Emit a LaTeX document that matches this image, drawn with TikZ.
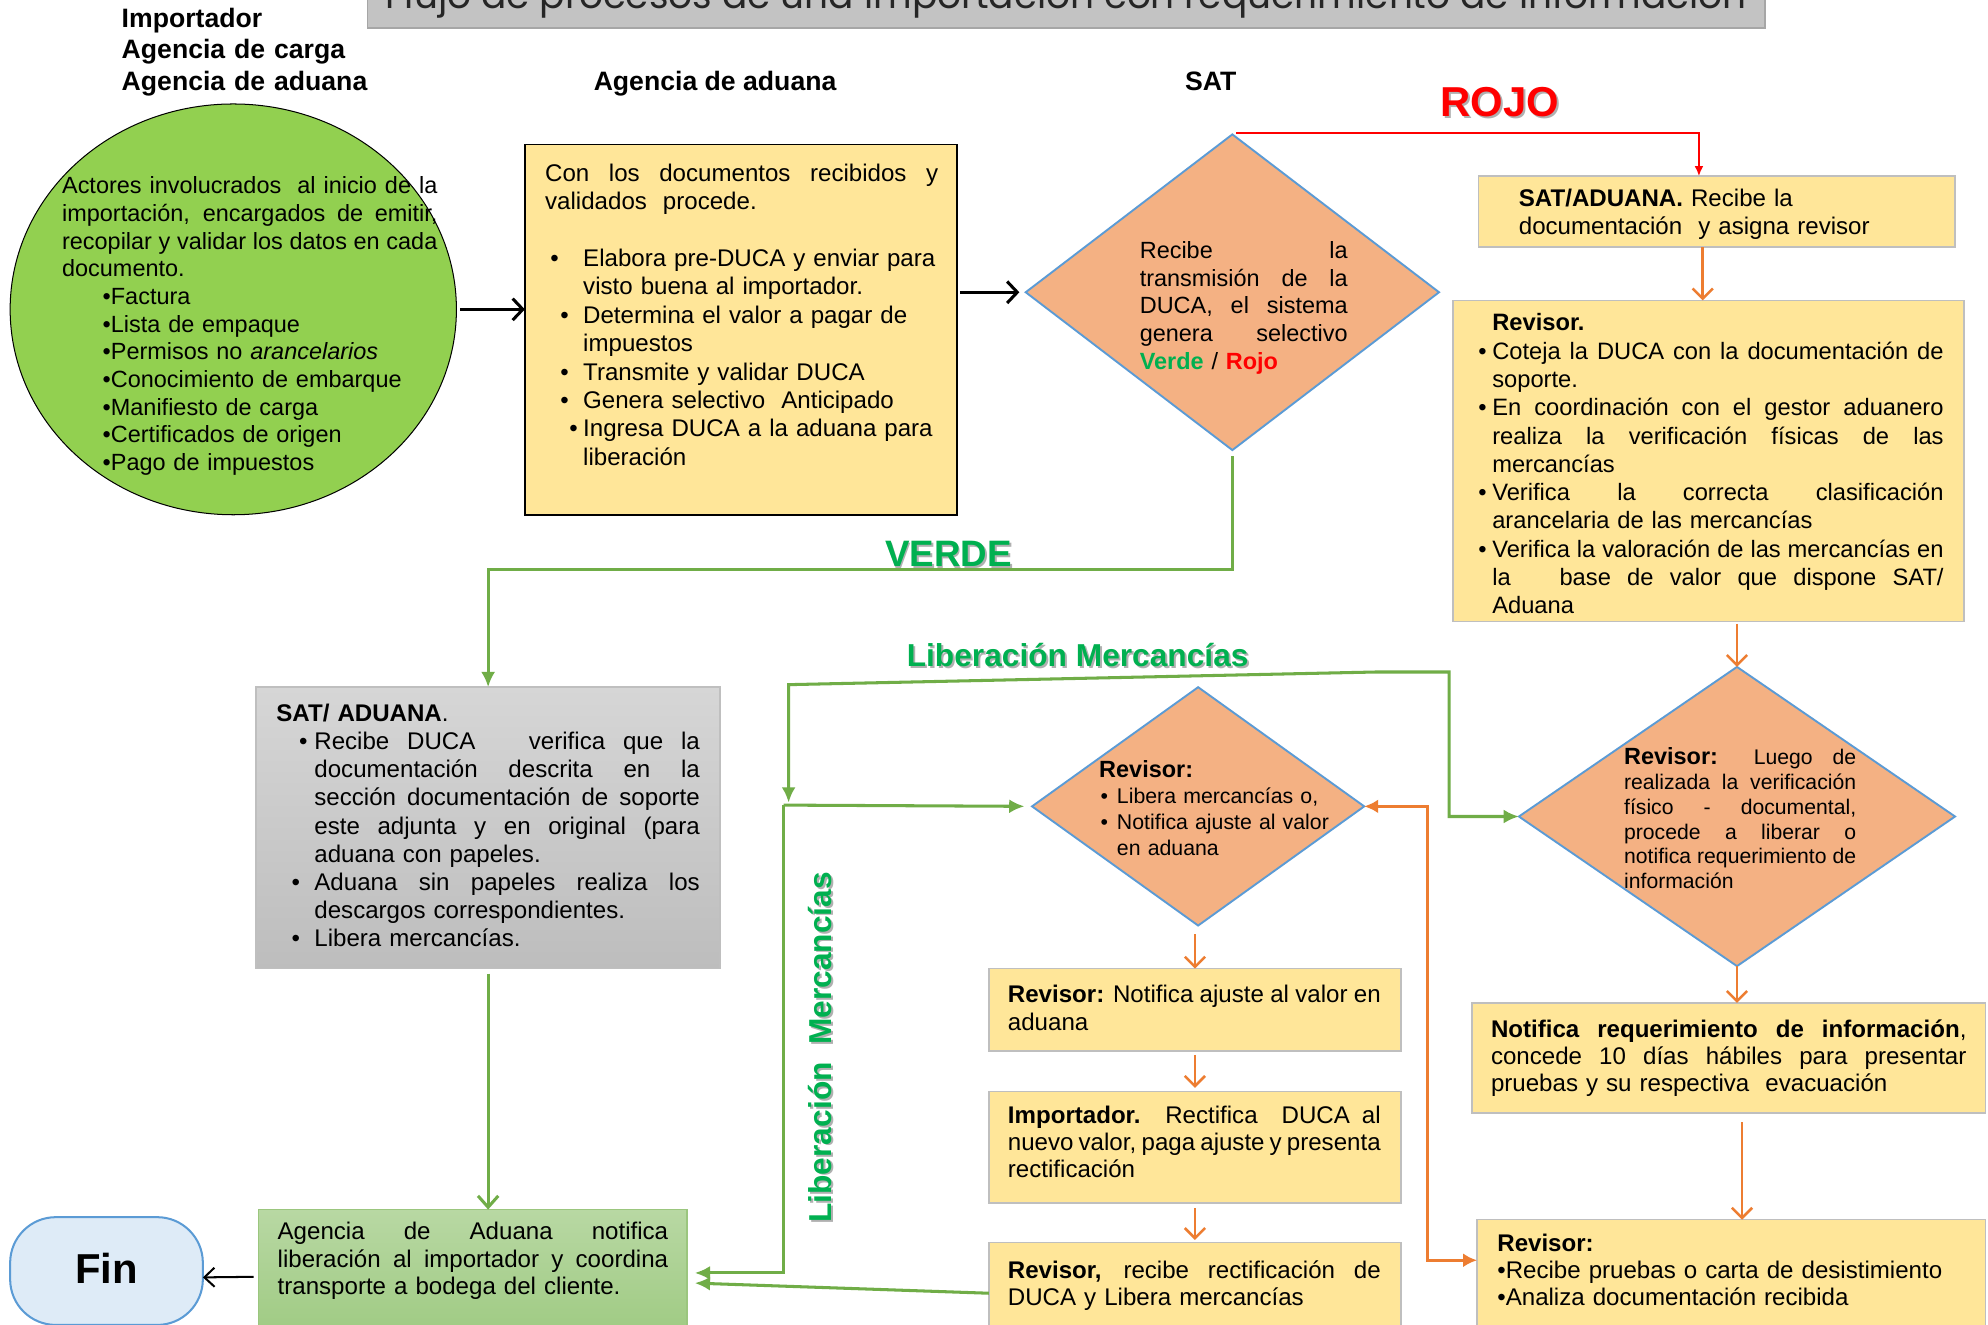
\documentclass[tikz,border=0pt]{standalone}
\usepackage{fontspec}
\usepackage{graphicx}
\setmainfont{Liberation Sans}
\newfontfamily\ttlfont{Poppins}
\usetikzlibrary{arrows.meta,shapes.geometric,calc}
\definecolor{ylw}{HTML}{FFE699}
\definecolor{orgc}{HTML}{ED7D31}
\definecolor{grl}{HTML}{70AD47}
\definecolor{grt}{HTML}{00B050}
\definecolor{dfill}{HTML}{F4B183}
\definecolor{dblue}{HTML}{5B9BD5}
\definecolor{ellg}{HTML}{92D050}
\definecolor{boxgray}{HTML}{BFBFBF}
\definecolor{finfill}{HTML}{DEEBF7}
\definecolor{ttlfill}{HTML}{C3C3C3}
\definecolor{ttldraw}{HTML}{A6A6A6}
\definecolor{shadowgray}{HTML}{B0B0B0}
\definecolor{txtdark}{HTML}{262626}
\definecolor{gbtop}{HTML}{D6D6D6}
\definecolor{gbbot}{HTML}{BDBDBD}
\definecolor{gntop}{HTML}{B8D8A3}
\definecolor{gnbot}{HTML}{A0CB84}
\newcommand\fs[2]{\fontsize{#1}{#2}\selectfont}
\newcommand\jl[1]{\makebox[\linewidth][s]{\spaceskip=0pt\xspaceskip=0pt\relax #1}}
\newcommand\jli[2]{\makebox[\dimexpr\linewidth-#1pt\relax][s]{\spaceskip=0pt\xspaceskip=0pt\relax #2}}
\newcommand\bl[2]{\makebox[#2pt][l]{\hspace*{#1pt}\textbullet}}
\tikzset{
  ybox/.style={draw=boxgray, line width=1.2pt, fill=ylw, inner sep=0pt, outer sep=0pt},
  dmd/.style={diamond, draw=dblue, fill=dfill, line width=1.5pt, inner sep=0pt, outer sep=0pt},
  txt/.style={anchor=base west, inner sep=0pt, outer sep=0pt, align=left},
  blk/.style={draw=black, line width=2.4pt, -{Straight Barb[length=8pt,width=17pt]}},
  blkthin/.style={draw=black, line width=1.6pt, -{Straight Barb[length=8pt,width=15pt]}},
  redc/.style={draw=red, line width=2pt, -{Latex[length=8pt,width=7pt]}},
  orgv/.style={draw=orgc, line width=2pt, -{Straight Barb[length=8pt,width=16pt]}},
  orgd/.style={draw=orgc, line width=2.5pt, {Latex[length=11pt,width=11pt]}-{Latex[length=11pt,width=11pt]}},
  grnc/.style={draw=grl, line width=2.4pt},
  gtip/.style={-{Latex[length=12pt,width=11pt]}},
  lbl/.style={inner sep=0pt, outer sep=0pt, anchor=base}
}
\begin{document}
\begin{tikzpicture}[x=1pt,y=-1pt]
\useasboundingbox (0,0) rectangle (1568,1045);
\fill[white] (0,0) rectangle (1568,1045);
\clip (0,0) rectangle (1568,1045);

% title
\node[draw=ttldraw, fill=ttlfill, line width=1.2pt, minimum width=1102, minimum height=60, inner sep=0pt] (tbox) at (841,-8) {};
\node[lbl, text=txtdark] (ttl) at (841,6.5) {\resizebox{1073pt}{!}{\ttlfont Flujo de procesos de una importación con requerimiento de información}};

% headers
\node[txt, text width=260, font={\bfseries\fs{21}{24.5}}] (hd1) at (96,22) {Importador\\Agencia de carga\\Agencia de aduana};
\node[lbl, font={\bfseries\fs{21}{24}}] (hd2) at (564,71) {Agencia de aduana};
\node[lbl, font={\bfseries\fs{21}{24}}] (hd3) at (955,71) {SAT};

% shapes
\node[ellipse, draw=black, fill=ellg, line width=0.8pt, minimum width=352, minimum height=324, inner sep=0pt, outer sep=0pt] (ell) at (184,244) {};
\node[draw=black, fill=ylw, line width=1.3pt, minimum width=341, minimum height=292, inner sep=0pt, outer sep=0pt] (b1) at (584.5,260) {};
\node[dmd, minimum width=326, minimum height=249] (d1) at (972,230.5) {};
\node[ybox, minimum width=376, minimum height=56] (sa) at (1354,167) {};
\node[ybox, minimum width=403, minimum height=253] (rv) at (1347.5,363.5) {};
\node[dmd, minimum width=344, minimum height=236] (d2) at (1370,644) {};
\node[ybox, minimum width=405, minimum height=87] (nt) at (1363.5,834.5) {};
\node[ybox, minimum width=401, minimum height=88] (rb) at (1365.5,1006) {};
\node[dmd, minimum width=262, minimum height=188] (d3) at (945,636) {};
\node[ybox, minimum width=325, minimum height=65] (m1) at (942.5,796.5) {};
\node[ybox, minimum width=325, minimum height=88] (m2) at (942.5,905) {};
\node[ybox, minimum width=325, minimum height=70] (m3) at (942.5,1015) {};
\node[draw=boxgray, line width=1.2pt, top color=gbtop, bottom color=gbbot, minimum width=366, minimum height=222, inner sep=0pt, outer sep=0pt] (gb) at (385,653) {};
\node[draw=grl!70, line width=1.2pt, top color=gntop, bottom color=gnbot, minimum width=338, minimum height=96, inner sep=0pt, outer sep=0pt] (gn) at (373,1002) {};
\node[draw=dblue, fill=finfill, line width=1.6pt, rounded corners=36pt, minimum width=152, minimum height=85, inner sep=0pt, outer sep=0pt, font={\bfseries\fs{33}{36}}] (fin) at (84,1002.5) {\raisebox{4pt}{Fin}};

% texts
\node[txt, text width=296, font={\fs{18.5}{21.8}}] (et) at (49,153) {%
\jl{Actores involucrados\ \ al inicio de la}\\
\jl{importación, encargados de emitir,}\\
\jl{recopilar y validar los datos en cada}\\
documento.\\
\hspace*{32pt}•Factura\\
\hspace*{32pt}•Lista de empaque\\
\hspace*{32pt}•Permisos no {\itshape arancelarios}\\
\hspace*{32pt}•Conocimiento de embarque\\
\hspace*{32pt}•Manifiesto de carga\\
\hspace*{32pt}•Certificados de origen\\
\hspace*{32pt}•Pago de impuestos};

\node[txt, text width=310, font={\fs{19}{22.4}}] (b1t) at (430,143) {%
\jl{Con\ \ los\ \ documentos\ \ recibidos\ \ y}\\
validados\ \ procede.\\
\mbox{}\\
\bl{4}{30}Elabora pre-DUCA y enviar para\\
\hspace*{30pt}visto buena al importador.\\
\bl{12}{30}Determina el valor a pagar de\\
\hspace*{30pt}impuestos\\
\bl{12}{30}Transmite y validar DUCA\\
\bl{12}{30}Genera selectivo\ \ Anticipado\\
\bl{19}{30}Ingresa DUCA a la aduana para\\
\hspace*{30pt}liberación};

\node[txt, text width=164, font={\fs{18.5}{21.8}}] (d1t) at (899,204) {%
\jl{Recibe la}\\
\jl{transmisión de la}\\
\jl{DUCA, el sistema}\\
\jl{genera selectivo}\\
{\bfseries\color{grt}Verde} / {\bfseries\color{red}Rojo}};

\node[txt, text width=300, font={\fs{19}{22}}] (sat) at (1198,163) {%
{\bfseries SAT/ADUANA.} Recibe la\\
documentación\ \ y asigna revisor};

\begin{scope}
\clip (1146,237) rectangle (1549,484);
\node[txt, text width=367, font={\fs{18.7}{22.3}}] (rvt) at (1166,261) {%
\hspace*{11pt}{\bfseries Revisor.}\\
\bl{0}{11}\jli{11}{Coteja la DUCA con la documentación de}\\
\hspace*{11pt}soporte.\\
\bl{0}{11}\jli{11}{En coordinación con el gestor aduanero}\\
\hspace*{11pt}\jli{11}{realiza la verificación físicas de las}\\
\hspace*{11pt}mercancías\\
\bl{0}{11}\jli{11}{Verifica la correcta clasificación}\\
\hspace*{11pt}arancelaria de las mercancías\\
\bl{0}{11}\jli{11}{Verifica la valoración de las mercancías en}\\
\hspace*{11pt}\jli{11}{la\ \ \ base de valor que dispone SAT/}\\
\hspace*{11pt}Aduana};
\end{scope}

\node[txt, text width=183, font={\fs{16.7}{19.6}}] (d2t) at (1281,603) {%
\jl{{\fs{18.5}{19.6}\bfseries Revisor:} Luego de}\\
\jl{realizada la verificación}\\
\jl{físico - documental,}\\
\jl{procede a liberar o}\\
\jl{notifica requerimiento de}\\
información};

\node[txt, text width=210, font={\fs{16.8}{20.5}}] (d3t) at (867,613) {%
{\fs{18.5}{20.5}\bfseries Revisor:}\\
\bl{1}{14}Libera mercancías o,\\
\bl{1}{14}Notifica ajuste al valor\\
\hspace*{14pt}en aduana};

\node[txt, text width=375, font={\fs{19}{21.5}}] (ntt) at (1176,818) {%
\jl{{\bfseries Notifica requerimiento de información},}\\
\jl{concede 10 días hábiles para presentar}\\
pruebas y su respectiva\ \ evacuación};

\node[txt, text width=375, font={\fs{19}{21.5}}] (rbt) at (1181,987) {%
{\bfseries Revisor:}\\
•Recibe pruebas o carta de desistimiento\\
•Analiza documentación recibida};

\node[txt, text width=294, font={\fs{19}{22}}] (m1t) at (795,791) {%
\jl{{\bfseries Revisor:} Notifica ajuste al valor en}\\
aduana};
\node[txt, text width=294, font={\fs{19}{21.5}}] (m2t) at (795,886) {%
\jl{{\bfseries Importador.} Rectifica\ \ DUCA al}\\
\jl{nuevo valor, paga ajuste y presenta}\\
rectificación};
\node[txt, text width=294, font={\fs{19}{22}}] (m3t) at (795,1008) {%
\jl{{\bfseries Revisor,} recibe rectificación de}\\
DUCA y Libera mercancías};

\node[txt, text width=334, font={\fs{19}{22.2}}] (gbt) at (218,569) {%
{\bfseries SAT/ ADUANA}.\\
\bl{18}{30}\jli{30}{Recibe DUCA\ \ \ verifica que la}\\
\hspace*{30pt}\jli{30}{documentación descrita en la}\\
\hspace*{30pt}\jli{30}{sección documentación de soporte}\\
\hspace*{30pt}\jli{30}{este adjunta y en original (para}\\
\hspace*{30pt}aduana con papeles.\\
\bl{12}{30}\jli{30}{Aduana sin papeles realiza los}\\
\hspace*{30pt}descargos correspondientes.\\
\bl{12}{30}Libera mercancías.};

\node[txt, text width=308, font={\fs{19}{21.5}}] (gnt) at (219,978) {%
\jl{Agencia de Aduana notifica}\\
\jl{liberación al importador y coordina}\\
transporte a bodega del cliente.};

% labels with shadow
\node[lbl, text=shadowgray, font={\bfseries\fs{33}{36}}] (rojoS) at (1184.5,93.5) {ROJO};
\node[lbl, text=red, font={\bfseries\fs{33}{36}}] (rojo) at (1183,92) {ROJO};
\node[lbl, text=shadowgray, font={\bfseries\fs{29}{32}}] (verdeS) at (749.5,448.5) {VERDE};
\node[lbl, text=grt, font={\bfseries\fs{29}{32}}] (verde) at (748,447) {VERDE};
\node[lbl, text=shadowgray, font={\bfseries\fs{25}{28}}] (libhS) at (851.5,527.5) {Liberación Mercancías};
\node[lbl, text=grt, font={\bfseries\fs{25}{28}}] (libh) at (850,526) {Liberación Mercancías};
\node[inner sep=0pt, rotate=90, text=shadowgray, font={\bfseries\fs{25}{28}}] (libvS) at (648.5,827.5) {Liberación\ \ Mercancías};
\node[inner sep=0pt, rotate=90, text=grt, font={\bfseries\fs{25}{28}}] (libv) at (647,826) {Liberación\ \ Mercancías};

% connectors
\draw[blk, shorten <=3pt] (ell.east) -- (ell.east -| b1.west);
\draw[blk, shorten <=2pt, shorten >=5pt] (b1.east |- d1.west) -- (d1.west);
\draw[blkthin, shorten <=4pt] ($(gn.west)+(0,5)$) -- ($(fin.east)+(0,5)$);

\draw[redc] ($(d1.north)+(3,-1)$) -| ($(sa.north)+(-14,0)$);

\draw[orgv] ($(sa.south)+(-11,0)$) -- ($(sa.south |- rv.north)+(-11,0)$);
\draw[orgv, shorten <=2pt] (rv.south -| d2.north) -- (d2.north);
\draw[orgv] (d2.south) -- (d2.south |- nt.north);
\draw[orgv] ($(nt.south -| d2.south)+(4,7)$) -- ($(d2.south |- rb.north)+(4,0)$);
\draw[orgv] ($(d3.south -| m1.north)+(0,7)$) -- (m1.north);
\draw[orgv, shorten <=3pt, shorten >=3pt] (m1.south) -- (m2.north);
\draw[orgv, shorten <=4pt, shorten >=2pt] (m2.south) -- (m3.north);
\draw[orgd] (d3.east) -- ++(50,0) |- ($(rb.north west)+(0,32)$);

\draw[grnc, gtip, shorten <=5pt] (d1.south) -- ++(0,94) -| (gb.north);
\draw[grnc, -{Straight Barb[length=9pt,width=16pt]}, shorten <=4pt] (gb.south) -- (gb.south |- gn.north);
\draw[grnc, {Latex[length=12pt,width=11pt]}-{Latex[length=12pt,width=11pt]}] (d2.west) -- (1143,644) -- (1143,530) -- (1086,530) -- (622,540) -- (622,633);
\coordinate (j1) at (618,635);
\draw[grnc, gtip, shorten >=6pt] (j1) -- (d3.west);
\draw[grnc, gtip] (j1) |- ($(gn.east)+(6,2)$);
\draw[grnc, gtip] ($(m3.west)+(0,5)$) -- ($(gn.east)+(6,10)$);
\end{tikzpicture}
\end{document}
